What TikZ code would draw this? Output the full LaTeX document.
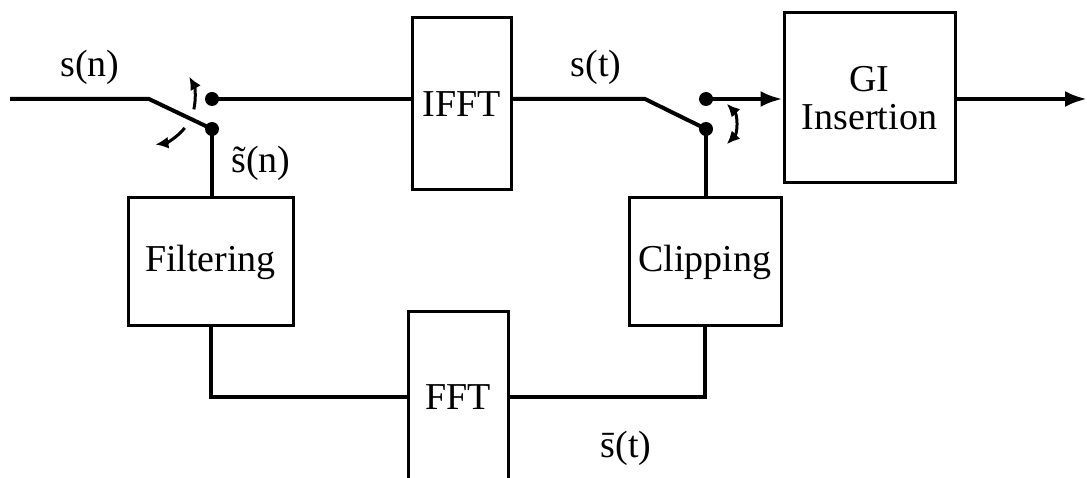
\documentclass[tikz,border=0pt]{standalone}
\usepackage{fontspec}
\setmainfont{Liberation Serif}
\usetikzlibrary{arrows.meta,positioning,calc}
\tikzset{block/.style={draw,line width=1.5pt,fill=white,inner sep=2pt,align=center},
  wire/.style={draw,line width=2pt},
  contact/.style={circle,fill,inner sep=0pt,minimum size=7pt},
  turn/.style={line width=1.5pt},
  every picture/.style={>={Latex[length=11pt,width=8pt]}}}
\newcommand{\tip}{Latex[length=6.5pt,width=6pt]}

\begin{document}
\begin{tikzpicture}[x=0.5pt,y=0.5pt,font=\fontsize{19}{19}\selectfont]
  \useasboundingbox (0,0) rectangle (1087,477);
  % blocks
  \node[block,minimum width=49.5pt,minimum height=86pt] (ifft) at (461.5,373) {IFFT};
  \node[block,minimum width=85.5pt,minimum height=85pt] (gi) at (869.5,379) {GI\\Insertion};
  \node[block,minimum width=82.5pt,minimum height=64pt] (filt) at (210.5,215) {Filtering};
  \node[block,minimum width=76pt,minimum height=64pt] (clip) at (705,215) {Clipping};
  \node[block,minimum width=50pt,minimum height=85pt] (fft) at (458,80) {FFT};
  % switches
  \coordinate (in) at (10,378);
  \coordinate (piv1) at (149,378);
  \node[contact] (sw1a) at (212,378) {};
  \node[contact] (sw1b) at (212,348) {};
  \coordinate (piv2) at (645,378);
  \node[contact] (sw2a) at (706,378) {};
  \node[contact] (sw2b) at (706,348) {};
  \coordinate (out) at (1087,378);
  % wires
  \draw[wire] (in) -- (piv1) -- (sw1b.center);
  \draw[wire] (sw1a.center) -- (sw1a -| ifft.west);
  \draw[wire] (sw1b.center) -- (sw1b |- filt.north);
  \draw[wire] (filt.south) |- (fft.west);
  \draw[wire] (fft.east) -| (clip.south);
  \draw[wire] (sw2b |- clip.north) -- (sw2b.center);
  \draw[wire] (ifft.east |- piv2) -- (piv2) -- (sw2b.center);
  \draw[wire,->] (sw2a.center) -- (sw2a -| gi.west);
  \draw[wire,->] (gi.east |- out) -- (out);
  % turning arrows
  \draw[turn,-{\tip}] ($(piv1)+(-13:46)$) arc[start angle=-13,end angle=29,radius=23pt];
  \draw[turn,-{\tip}] ($(piv1)+(-39:46)$) arc[start angle=-39,end angle=-82,radius=23pt];
  \draw[turn,{\tip}-{\tip}] ($(sw2b)+(0,5)+(44:29)$) arc[start angle=44,end angle=-44,radius=14.5pt];
  % labels
  \node[anchor=base] (lsn) at (90,400) {s(n)};
  \node[anchor=base] (lst) at (596,400) {s(t)};
  \node[anchor=base] (lsf) at (261,304) {\~{s}(n)};
  \node[anchor=base] (lsb) at (626,20) {\={s}(t)};
\end{tikzpicture}
\end{document}
